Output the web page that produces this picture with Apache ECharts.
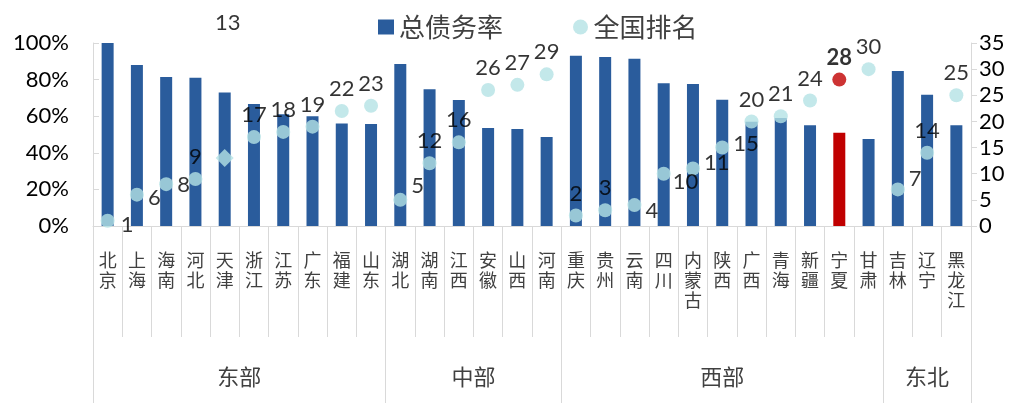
<!DOCTYPE html>
<html>
<head>
<meta charset="utf-8">
<script src="https://cdn.jsdelivr.net/npm/echarts@6/dist/echarts.min.js"></script>
<style>
  html, body { margin: 0; padding: 0; background: #fff; }
  #main { width: 1025px; height: 403px; }
</style>
</head>
<body>
<div id="main"></div>
<script>
// 数据
var provinces = ['北京','上海','海南','河北','天津','浙江','江苏','广东','福建','山东',
  '湖北','湖南','江西','安徽','山西','河南',
  '重庆','贵州','云南','四川','内蒙古','陕西','广西','青海','新疆','宁夏','甘肃',
  '吉林','辽宁','黑龙江'];
var debtRatio = [100, 88, 81.4, 81, 73, 66.7, 61, 60, 56, 55.7,
  88.5, 74.7, 68.8, 53.5, 53, 48.6,
  93, 92.3, 91.4, 78, 77.6, 69, 57, 59, 55, 51, 47.5,
  84.7, 71.7, 55];
var rank = [1, 6, 8, 9, 13, 17, 18, 19, 22, 23,
  5, 12, 16, 26, 27, 29,
  2, 3, 4, 10, 11, 15, 20, 21, 24, 28, 30,
  7, 14, 25];
var groupNames = ['东部', '中部', '西部', '东北'];
var groupSizes = [10, 6, 11, 3];
var leftTicks = [0, 20, 40, 60, 80, 100];
var rightTicks = [0, 5, 10, 15, 20, 25, 30, 35];

// 样式
var barColor = '#2a5c9c';
var dotColor = '#b4e2e5';
var hiColor = '#c00000';
var highlight = '宁夏';
var rightLabel = { '北京':[2,4], '上海':[0,3], '海南':[0,1], '湖北':[0,-14], '云南':[0,6],
  '四川':[-2,8], '内蒙古':[0,-6], '陕西':[0,-4], '吉林':[0,-10] };
var gridLine = '#d9d9d9';
var numFont = 'Lato, "Noto Sans", sans-serif';
var cjkFont = '"Noto Sans CJK SC", sans-serif';

var boundaries = [0];
groupSizes.forEach(function (n) { boundaries.push(boundaries[boundaries.length - 1] + n); });

var chart = echarts.init(document.getElementById('main'));

var barData = debtRatio.map(function (v, i) {
  if (provinces[i] === highlight) return { value: v, itemStyle: { color: hiColor } };
  return v;
});
var dotData = rank.map(function (v, i) {
  var p = provinces[i];
  var item = { value: v, label: { position: 'top', distance: 4 } };
  if (rightLabel[p]) item.label = { position: 'right', distance: 4, offset: rightLabel[p] };
  if (p === '天津') {
    item.symbol = 'diamond';
    item.symbolSize = 18;
    item.label = { position: 'top', offset: [3, -110] };
  }
  if (p === highlight) {
    item.itemStyle = { color: hiColor };
    item.label = { position: 'top', distance: 4, fontWeight: 'bold' };
  }
  return item;
});

var option = {
  animation: false,
  legend: {
    top: 9,
    left: 373,
    itemWidth: 16,
    itemHeight: 15,
    itemGap: 70,
    textStyle: { fontSize: 26, fontFamily: cjkFont, color: '#404040' },
    data: [
      { name: '总债务率', icon: 'rect' },
      { name: '全国排名', icon: 'circle', itemStyle: { color: dotColor } }
    ]
  },
  grid: { left: 93, right: 54, top: 43, bottom: 177 },
  xAxis: [
    {
      type: 'category',
      data: provinces,
      axisLine: { show: true, lineStyle: { color: gridLine, width: 1 } },
      axisTick: { show: true, length: 111, lineStyle: { color: gridLine, width: 1 } },
      axisLabel: {
        interval: 0,
        margin: 24,
        verticalAlign: 'top',
        fontFamily: cjkFont,
        fontSize: 18,
        lineHeight: 20,
        color: '#404040',
        formatter: function (v) { return v.split('').join('\n'); }
      }
    },
    {
      type: 'category',
      data: provinces,
      position: 'bottom',
      axisLine: { show: false },
      axisLabel: { show: false },
      axisTick: {
        show: true,
        length: 177,
        interval: function (i) { return boundaries.indexOf(i) >= 0; },
        lineStyle: { color: gridLine, width: 1 }
      }
    }
  ],
  yAxis: [
    {
      type: 'value',
      min: 0, max: 100, interval: 20,
      splitLine: { show: false },
      axisLine: { show: true, lineStyle: { color: gridLine } },
      axisTick: { show: true, inside: true, length: 6, lineStyle: { color: gridLine } },
      axisLabel: { fontSize: 22, fontFamily: numFont, color: '#000', margin: 24,
        formatter: function (v) { return leftTicks.indexOf(v) >= 0 ? v + '%' : ''; } }
    },
    {
      type: 'value',
      min: 0, max: 35, interval: 5,
      splitLine: { show: false },
      axisLine: { show: true, lineStyle: { color: gridLine } },
      axisTick: { show: true, length: 6, lineStyle: { color: gridLine } },
      axisLabel: { fontSize: 22, fontFamily: numFont, color: '#000', margin: 8,
        formatter: function (v) { return rightTicks.indexOf(v) >= 0 ? String(v) : ''; } }
    }
  ],
  series: [
    {
      name: '总债务率',
      type: 'bar',
      data: barData,
      barWidth: 12,
      itemStyle: { color: barColor }
    },
    {
      name: '全国排名',
      type: 'scatter',
      yAxisIndex: 1,
      data: dotData,
      symbolSize: 14,
      itemStyle: { color: dotColor },
      label: { show: true, fontSize: 22, fontFamily: numFont, color: '#000' },
      z: 3
    }
  ]
};
chart.setOption(option);

// 区域标签：按分类轴位置放置
var groupText = groupNames.map(function (g, k) {
  var a = chart.convertToPixel({ xAxisIndex: 0 }, boundaries[k]);
  var b = chart.convertToPixel({ xAxisIndex: 0 }, boundaries[k + 1] - 1);
  return {
    type: 'text',
    x: (a + b) / 2,
    y: 377,
    style: { text: g, fontSize: 22, fontFamily: cjkFont, fill: '#404040',
      align: 'center', verticalAlign: 'middle' }
  };
});
chart.setOption({ graphic: groupText });
</script>
</body>
</html>
